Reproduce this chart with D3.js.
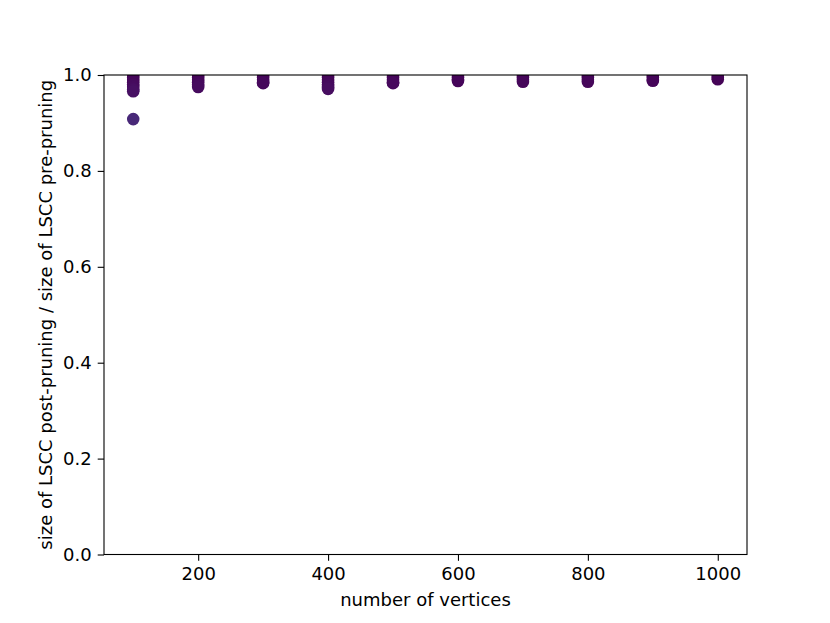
<!DOCTYPE html>
<html><head><meta charset="utf-8">
<script src="https://cdn.jsdelivr.net/npm/d3@7"></script>
<style>body{margin:0;background:#fff}text{font-family:"DejaVu Sans",sans-serif;fill:#000}</style>
</head><body><svg id="c" width="830" height="623"></svg>
<script>
// data
const vertices = [100, 200, 300, 400, 500, 600, 700, 800, 900, 1000];
const ratios = [
  [1.0, 0.995, 0.99, 0.985, 0.98, 0.975, 0.97, 0.966, 0.908],
  [1.0, 0.995, 0.99, 0.985, 0.98, 0.975],
  [1.0, 0.995, 0.99, 0.985, 0.983],
  [1.0, 0.995, 0.99, 0.985, 0.98, 0.975, 0.971],
  [1.0, 0.995, 0.99, 0.985, 0.983],
  [1.0, 0.995, 0.99, 0.9875],
  [1.0, 0.995, 0.99, 0.986],
  [1.0, 0.995, 0.99, 0.986],
  [1.0, 0.995, 0.99, 0.988],
  [1.0, 0.995, 0.991]
];
const xTicks = [200, 400, 600, 800, 1000];
const yTicks = [0.0, 0.2, 0.4, 0.6, 0.8, 1.0];

const svg = d3.select("#c");
const L = 104, R = 747, T = 75, B = 554.5;
const x = d3.scaleLinear().domain([55, 1045]).range([L, R]);
const y = d3.scaleLinear().domain([0, 1]).range([B, T]);

svg.append("defs").append("clipPath").attr("id", "clip")
  .append("rect").attr("x", L).attr("y", T).attr("width", R - L).attr("height", B - T);

const pts = [];
vertices.forEach((v, i) => ratios[i].forEach(r => pts.push({v, r})));
// colour by ratio (lower = lighter within viridis low end)
const col = d3.scaleLinear().domain([1.0, 0.9]).range([0.0, 0.12]);
svg.append("g").attr("clip-path", "url(#clip)")
  .selectAll("circle").data(pts).join("circle")
  .attr("cx", d => x(d.v)).attr("cy", d => y(d.r)).attr("r", 6.3)
  .attr("fill", d => d3.interpolateViridis(col(d.r)));

const fs = "18px";
const xa = svg.append("g").attr("transform", `translate(0,${B})`)
  .call(d3.axisBottom(x).tickValues(xTicks).tickFormat(d3.format("d")).tickSizeOuter(0).tickSize(6.3).tickPadding(6));
const ya = svg.append("g").attr("transform", `translate(${L},0)`)
  .call(d3.axisLeft(y).tickValues(yTicks).tickFormat(d3.format(".1f")).tickSizeOuter(0).tickSize(6.3).tickPadding(6));
[xa, ya].forEach(a => {
  a.select(".domain").remove();
  a.selectAll("line").attr("stroke", "#000").attr("stroke-width", 1.1);
  a.selectAll("text").attr("font-size", fs).attr("font-family", "DejaVu Sans").attr("fill", "#000");
});
svg.append("rect").attr("x", L).attr("y", T).attr("width", R - L).attr("height", B - T)
  .attr("fill", "none").attr("stroke", "#000").attr("stroke-width", 1.1);

svg.append("text").attr("x", (L + R) / 2).attr("y", 606).attr("text-anchor", "middle")
  .attr("font-size", fs).text("number of vertices");
svg.append("text").attr("transform", `translate(52,${(T + B) / 2}) rotate(-90)`)
  .attr("text-anchor", "middle").attr("font-size", fs)
  .text("size of LSCC post-pruning / size of LSCC pre-pruning");
</script></body></html>
